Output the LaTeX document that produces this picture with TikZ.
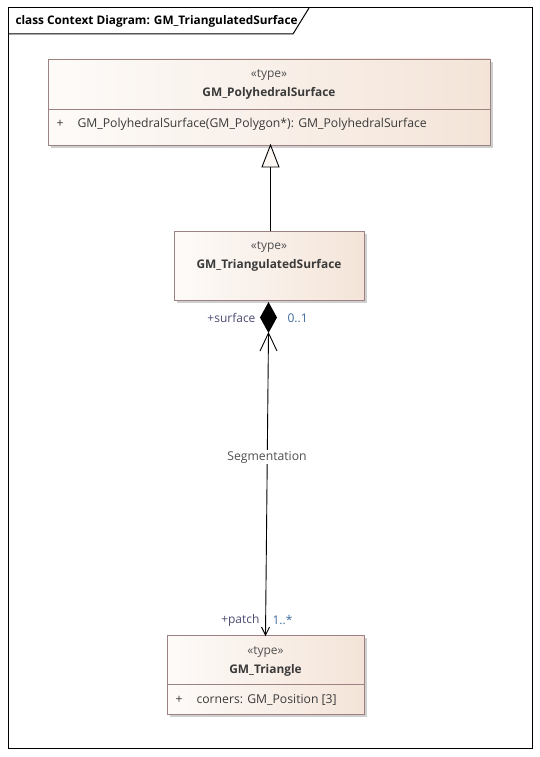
\documentclass[tikz,border=0pt]{standalone}
\usepackage{fontspec}
\setmainfont{Open Sans}
\usetikzlibrary{arrows.meta,calc,shadows}
\definecolor{bordc}{HTML}{9C8282}
\definecolor{filll}{HTML}{FDFBF9}
\definecolor{fillr}{HTML}{F4E4D8}
\definecolor{shadc}{HTML}{CFCFCF}
\definecolor{txtc}{HTML}{3A3A3A}
\definecolor{sterc}{HTML}{505050}
\definecolor{rolec}{HTML}{4C4C74}
\definecolor{multc}{HTML}{3F6C9E}
\tikzset{
  classbox/.style={draw=bordc, line width=0.9pt, left color=filll, right color=fillr,
    inner sep=0pt, drop shadow={shadow xshift=3pt, shadow yshift=-3pt, fill=shadc, opacity=1}},
  stereo/.style={text=sterc, font=\fontsize{12}{14}\selectfont},
  cname/.style={text=txtc, font=\fontsize{11.9}{14}\selectfont\bfseries},
  member/.style={text=txtc, anchor=west, font=\fontsize{12.2}{14}\selectfont},
  role/.style={text=rolec, font=\fontsize{12}{14}\selectfont},
  mult/.style={text=multc, font=\fontsize{12}{14}\selectfont},
  conn/.style={line width=0.9pt, black}
}
\begin{document}
\begin{tikzpicture}[x=1pt,y=-1pt]
\useasboundingbox (0,0) rectangle (540,757);
\fill[white] (0,0) rectangle (540,757);
% frame
\draw[line width=1pt] (8,8) rectangle (532,748);
\draw[line width=1pt] (8,34) -- (293,34) -- (309,8);
\node[anchor=west, text=black, font=\fontsize{11.8}{14}\selectfont\bfseries] (title) at (12,21) {class Context Diagram: GM\_TriangulatedSurface};

% GM_PolyhedralSurface
\node[classbox, minimum width=442pt, minimum height=86pt] (ps) at (269,102) {};
\draw[bordc, line width=0.9pt] ([yshift=-51pt]ps.north west) -- ([yshift=-51pt]ps.north east);
\node[stereo] (pss) at (269,75) {«type»};
\node[cname] (psn) at (269,93) {GM\_PolyhedralSurface};
\node[member] (psp) at (53,124) {+};
\node[member] (pso) at (74,124) {GM\_PolyhedralSurface(GM\_Polygon*): GM\_PolyhedralSurface};

% GM_TriangulatedSurface
\node[classbox, minimum width=190pt, minimum height=69pt] (ts) at (269,265.5) {};
\node[stereo] (tss) at (269,247) {«type»};
\node[cname] (tsn) at (269,265) {GM\_TriangulatedSurface};

% GM_Triangle
\node[classbox, minimum width=197pt, minimum height=79pt] (tr) at (265.5,674.5) {};
\draw[bordc, line width=0.9pt] ([yshift=-50pt]tr.north west) -- ([yshift=-50pt]tr.north east);
\node[stereo] (trs) at (265.5,652) {«type»};
\node[cname] (trn) at (265.5,670) {GM\_Triangle};
\node[member] (trp) at (172,700) {+};
\node[member] (tro) at (193,700) {corners: GM\_Position [3]};

% generalization
\coordinate (gapex) at (270.5,145);
\coordinate (gbase) at (270.5,167);
\coordinate (gtop) at (270.5,231);
\draw[conn] (gtop) -- (gbase);
\draw[line width=0.9pt, fill=white!70!fillr] (gapex) -- ($(gbase)+(8.5,0)$) -- ($(gbase)+(-8.5,0)$) -- cycle;

% composition
\coordinate (dtop) at (268.5,302);
\coordinate (dbot) at (268.5,333);
\coordinate (pend) at (265.5,635);
\fill[black] (dtop) -- (277,317.5) -- (dbot) -- (260,317.5) -- cycle;
\draw[conn] (dbot) -- (pend);
\draw[conn] ($(dbot)+(-8.5,18)$) -- (dbot) -- ($(dbot)+(8.5,18)$);
\draw[conn] ($(pend)+(-4,-8)$) -- (pend) -- ($(pend)+(4,-8)$);
\node[fill=white, inner sep=1.5pt, text=sterc, font=\fontsize{12.2}{14}\selectfont] (seg) at (267,457) {Segmentation};
\node[role, anchor=east] (rs) at (259,318) {+surface};
\node[mult, anchor=west] (ms) at (284,318) {0..1};
\node[role, anchor=east] (rp) at (263,620) {+patch};
\node[mult, anchor=west] (mp) at (269,620) {1..*};
\end{tikzpicture}
\end{document}
